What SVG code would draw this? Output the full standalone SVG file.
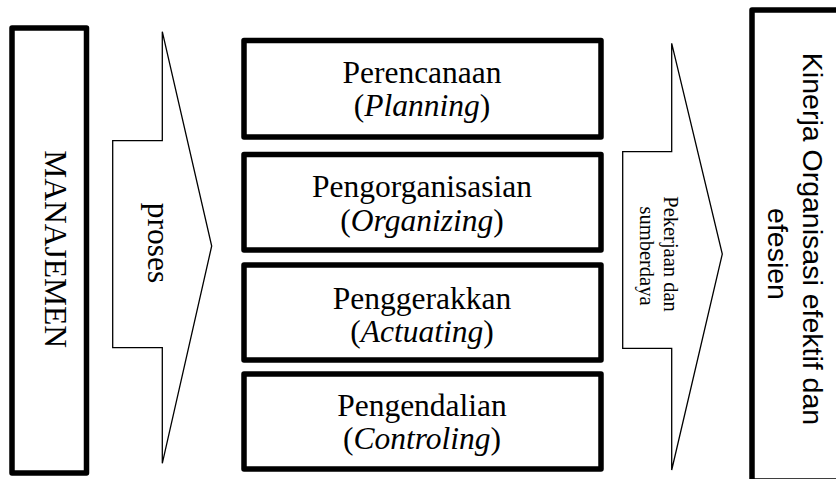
<svg xmlns="http://www.w3.org/2000/svg" width="836" height="479" viewBox="0 0 836 479">
<style>
.box{fill:#fff;stroke:#000;stroke-width:5.5;stroke-linejoin:round}
.arrow{fill:#fff;stroke:#000;stroke-width:1.3;stroke-linejoin:miter}
.serif{font-family:"Liberation Serif","Times New Roman",serif;fill:#000}
.sans{font-family:"Liberation Sans",Arial,sans-serif;fill:#000}
.big{font-size:31.5px}
.it{font-style:italic}
</style>
<g id="manajemen">
<rect class="box" x="12" y="28" width="74.5" height="445"/>
<text class="serif big" text-anchor="middle" transform="translate(45,249) rotate(90)">MANAJEMEN</text>
</g>
<g id="connectors">
<g id="arrow-proses">
<polygon class="arrow" points="112.7,140.7 162.3,140.7 162.3,31.7 211.7,246 162.3,463.3 162.3,347.7 112.7,347.7"/>
<text class="serif big" text-anchor="middle" transform="translate(147.5,243) rotate(90)">proses</text>
</g>
<g id="arrow-pekerjaan">
<polygon class="arrow" points="622.7,151.7 671.7,151.7 671.7,43.3 722.3,254 671.7,470 671.7,348.3 622.7,348.3"/>
<text class="serif" font-size="20.5" text-anchor="middle" transform="translate(664,254) rotate(90)">Pekerjaan dan</text>
<text class="serif" font-size="20.5" text-anchor="middle" transform="translate(640,256) rotate(90)">sumberdaya</text>
</g>
</g>
<g id="perencanaan">
<rect class="box" x="244" y="40.5" width="357" height="96.5"/>
<text class="serif big" text-anchor="middle" x="422" y="82.5">Perencanaan</text>
<text class="serif big" text-anchor="middle" x="422" y="116">(<tspan class="it">Planning</tspan>)</text>
</g>
<g id="pengorganisasian">
<rect class="box" x="244" y="154.5" width="357" height="95.5"/>
<text class="serif big" text-anchor="middle" x="422" y="197">Pengorganisasian</text>
<text class="serif big" text-anchor="middle" x="422" y="231">(<tspan class="it">Organizing</tspan>)</text>
</g>
<g id="penggerakkan">
<rect class="box" x="244" y="265" width="357" height="95"/>
<text class="serif big" text-anchor="middle" x="422" y="309">Penggerakkan</text>
<text class="serif big" text-anchor="middle" x="422" y="341.5">(<tspan class="it">Actuating</tspan>)</text>
</g>
<g id="pengendalian">
<rect class="box" x="244" y="374" width="357" height="95"/>
<text class="serif big" text-anchor="middle" x="422" y="416">Pengendalian</text>
<text class="serif big" text-anchor="middle" x="422" y="449">(<tspan class="it">Controling</tspan>)</text>
</g>
<g id="kinerja">
<rect class="box" x="752" y="10" width="110" height="471"/>
<text class="sans" font-size="28.5" text-anchor="middle" transform="translate(803,239) rotate(90)">Kinerja Organisasi efektif dan</text>
<text class="sans" font-size="28.5" text-anchor="middle" transform="translate(768,254) rotate(90)">efesien</text>
</g>
</svg>
